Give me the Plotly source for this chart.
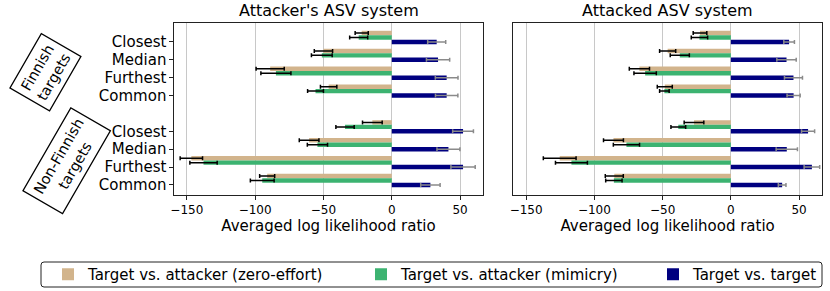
import plotly.graph_objects as go
import numpy as np

categories = ["Closest", "Median", "Furthest", "Common"]
groups = ["Finnish targets", "Non-Finnish targets"]
tick_labels = categories + categories
x_ticks = [-150, -100, -50, 0, 50]

# Attacker's ASV system (left panel)
att_zero = [-22.0, -50.0, -89.0, -46.2, -14.2, -60.5, -146.7, -91.2]
att_zero_err = [4.8, 6.7, 10.3, 6.0, 7.2, 7.2, 8.2, 5.5]
att_mim = [-24.2, -51.2, -84.8, -55.8, -34.2, -54.4, -137.8, -94.8]
att_mim_err = [6.6, 7.6, 11.0, 5.8, 6.7, 7.4, 10.0, 8.7]
att_tgt = [32.9, 33.9, 40.2, 40.2, 52.2, 41.5, 52.2, 28.3]
att_tgt_err = [6.6, 8.5, 8.3, 8.2, 7.6, 8.4, 8.9, 7.1]

# Attacked ASV system (right panel)
atk_zero = [-22.6, -46.3, -67.0, -48.4, -27.0, -86.0, -125.4, -85.4]
atk_zero_err = [5.0, 5.9, 7.4, 5.5, 7.2, 7.3, 12.0, 6.6]
atk_mim = [-23.0, -37.4, -62.8, -48.7, -38.5, -76.5, -116.8, -85.7]
atk_mim_err = [6.0, 7.0, 8.2, 3.5, 5.4, 9.6, 11.7, 6.0]
atk_tgt = [42.7, 40.8, 45.9, 46.0, 56.6, 41.0, 59.4, 37.6]
atk_tgt_err = [3.9, 7.1, 6.6, 4.8, 4.8, 7.8, 5.7, 2.8]

series_names = ["Target vs. attacker (zero-effort)",
                "Target vs. attacker (mimicry)",
                "Target vs. target"]
colors = ["#D2B48C", "#3CB371", "#000080"]
err_colors = ["black", "black", "#8a8a8a"]
legend_ids = ["legend", "legend2", "legend3"]

W, H = 830, 291
n = len(categories)
pos = np.array([i + (1 if i >= n else 0) for i in range(2 * n)], dtype=float)
bar_h = 0.25
offsets = [-2 * bar_h, -bar_h, 0.0]

fig = go.Figure()
panels = [
    ("x", "y", [att_zero, att_mim, att_tgt], [att_zero_err, att_mim_err, att_tgt_err], True),
    ("x2", "y2", [atk_zero, atk_mim, atk_tgt], [atk_zero_err, atk_mim_err, atk_tgt_err], False),
]
for xa, ya, vals, errs, show in panels:
    for k in range(3):
        fig.add_trace(go.Bar(
            x=vals[k], y=pos + offsets[k], orientation="h", width=bar_h,
            name=series_names[k], showlegend=show, legend=legend_ids[k],
            marker=dict(color=colors[k], line=dict(width=0)),
            error_x=dict(type="data", array=errs[k], color=err_colors[k],
                         thickness=1.5, width=2),
            xaxis=xa, yaxis=ya,
        ))

dom_y = [1 - 195 / H, 1 - 23 / H]
xcommon = dict(range=[-159.4, 66.8], tickvals=x_ticks,
               ticktext=["\u2212150", "\u2212100", "\u221250", "0", "50"],
               showgrid=True, gridcolor="#c8c8c8", gridwidth=1.3,
               zeroline=False, showline=True, linecolor="#222", linewidth=1.2,
               mirror=True, ticks="outside", ticklen=3.5, tickcolor="#222",
               tickfont=dict(size=12, color="black"), automargin=False,
               title=dict(text="Averaged log likelihood ratio",
                          font=dict(size=15, color="black"), standoff=2))
ycommon = dict(range=[pos.max() + 0.56, pos.min() - 1.06], tickvals=pos,
               showgrid=False, zeroline=False, showline=True, linecolor="#222",
               linewidth=1.2, mirror=True, domain=dom_y, automargin=False,
               tickcolor="#222")

legend_text_x = [88, 401, 693]
legend_cfg = {}
for k, lid in enumerate(legend_ids):
    legend_cfg[lid] = dict(orientation="h", x=(legend_text_x[k] - 40) / W,
                           xanchor="left", y=1 - 274.5 / H, yanchor="middle",
                           bgcolor="rgba(0,0,0,0)", borderwidth=0,
                           font=dict(size=15, color="black"))


def px(x):
    return x / W


def py(y):
    return 1 - y / H


x0, x1, y0, y1, r = 41, 822, 262, 287, 3
frame_path = (f"M {px(x0 + r)},{py(y0)} L {px(x1 - r)},{py(y0)} Q {px(x1)},{py(y0)} {px(x1)},{py(y0 + r)} "
              f"L {px(x1)},{py(y1 - r)} Q {px(x1)},{py(y1)} {px(x1 - r)},{py(y1)} "
              f"L {px(x0 + r)},{py(y1)} Q {px(x0)},{py(y1)} {px(x0)},{py(y1 - r)} "
              f"L {px(x0)},{py(y0 + r)} Q {px(x0)},{py(y0)} {px(x0 + r)},{py(y0)} Z")

box_style = dict(xref="paper", yref="paper", showarrow=False, textangle=-60,
                 xanchor="center", yanchor="middle",
                 font=dict(size=14.5, color="black"), bordercolor="black",
                 borderwidth=1.3, borderpad=5)

fig.update_layout(
    width=W, height=H, margin=dict(l=0, r=0, t=0, b=0),
    template="none",
    paper_bgcolor="white", plot_bgcolor="white", barmode="overlay",
    font=dict(family="DejaVu Sans", color="black"),
    xaxis=dict(domain=[174 / W, 483 / W], anchor="y", **xcommon),
    xaxis2=dict(domain=[513.3 / W, 822 / W], anchor="y2", **xcommon),
    yaxis=dict(anchor="x", ticktext=tick_labels, ticklabelstandoff=0,
               ticks="outside", ticklen=3.5,
               tickfont=dict(size=15, color="black"), **ycommon),
    yaxis2=dict(anchor="x2", showticklabels=False, ticks="", **ycommon),
    shapes=[dict(type="path", path=frame_path, xref="paper", yref="paper",
                 line=dict(color="#222", width=1), fillcolor="rgba(0,0,0,0)")],
    annotations=[
        dict(text="Attacker's ASV system", x=(174 + 483) / 2 / W, y=1 - 11 / H,
             xref="paper", yref="paper", showarrow=False,
             font=dict(size=16, color="black"), xanchor="center", yanchor="middle"),
        dict(text="Attacked ASV system", x=(513.3 + 822) / 2 / W, y=1 - 11 / H,
             xref="paper", yref="paper", showarrow=False,
             font=dict(size=16, color="black"), xanchor="center", yanchor="middle"),
        dict(text="Finnish<br>targets", x=45 / W, y=1 - 72 / H, **box_style),
        dict(text="Non-Finnish<br>targets", x=66 / W, y=1 - 161 / H, **box_style),
    ],
    **legend_cfg,
)

fig.write_html("out.html", config={"displayModeBar": False},
               post_script="document.body.style.margin='0px';")
